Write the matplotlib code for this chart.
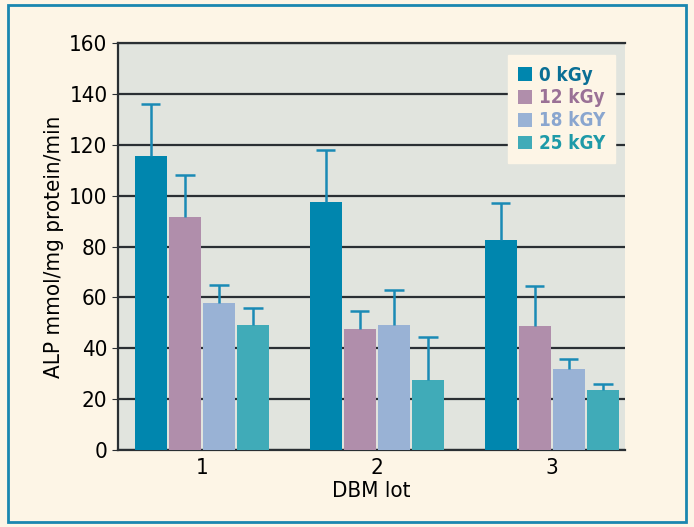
import numpy as np
import matplotlib.pyplot as plt
from matplotlib.patches import Rectangle

# data
lots = ['1', '2', '3']
doses = ['0 kGy', '12 kGy', '18 kGY', '25 kGY']
means = {
    '0 kGy': [115.5, 97.5, 82.5],
    '12 kGy': [91.5, 47.5, 48.7],
    '18 kGY': [58, 49, 31.8],
    '25 kGY': [49, 27.5, 23.6],
}
errs = {
    '0 kGy': [20.5, 20.5, 14.5],
    '12 kGy': [16.5, 7, 15.8],
    '18 kGY': [7, 14, 4],
    '25 kGY': [7, 17, 2.4],
}
colors = ['#0086ae', '#b08eab', '#99b2d5', '#40abb8']
legend_text_colors = ['#0a6f95', '#9a7196', '#8aa6cf', '#1e9aa8']

plt.rcParams['font.family'] = ['DejaVu Sans']
plt.rcParams['font.stretch'] = 'condensed'

fig = plt.figure(figsize=(6.94, 5.27), dpi=100)
fig.patch.set_facecolor('#fdf5e6')
fig.patches.append(Rectangle((0.012, 0.01), 0.977, 0.98, transform=fig.transFigure,
                             fill=False, edgecolor='#1a87b0', linewidth=2))

ax = fig.add_axes([0.170, 0.146, 0.731, 0.772])
ax.set_facecolor('#e1e4de')

x = np.arange(len(lots))
width = 0.195
cap = 0.055
for i, d in enumerate(doses):
    pos = x + (i - 1.5) * width
    m = np.array(means[d])
    top = m + np.array(errs[d])
    ax.bar(pos, m, width * 0.94, color=colors[i], label=d, zorder=3)
    # upper error bars only
    ax.vlines(pos, m, top, color='#1a8ab5', linewidth=1.8, zorder=4)
    ax.hlines(top, pos - cap, pos + cap, color='#1a8ab5', linewidth=1.8, zorder=4)

ax.set_ylim(0, 160)
ax.set_xlim(-0.48, 2.42)
ax.set_yticks(np.arange(0, 161, 20))
ax.set_xticks(x)
ax.set_xticklabels(lots)
ax.yaxis.grid(True, color='#2a2f33', linewidth=1.6, zorder=1)
ax.set_axisbelow(True)
ax.spines['right'].set_visible(False)
for s in ['left', 'top', 'bottom']:
    ax.spines[s].set_color('#2a2f33')
    ax.spines[s].set_linewidth(1.6)
ax.tick_params(axis='both', labelsize=16, color='#2a2f33', length=4)
ax.tick_params(axis='x', length=0, pad=6)
ax.set_ylabel('ALP mmol/mg protein/min', fontsize=16)
ax.set_xlabel('DBM lot', fontsize=16, labelpad=2)

leg = ax.legend(loc='upper right', bbox_to_anchor=(0.98, 0.97), borderaxespad=0,
                frameon=True, fancybox=False, facecolor='#fdf5e6', edgecolor='#fdf5e6',
                framealpha=1, handlelength=0.75, handleheight=0.75, handletextpad=0.35,
                labelspacing=0.2, borderpad=0.55, prop={'weight': 'bold', 'size': 13.5})
for t, c in zip(leg.get_texts(), legend_text_colors):
    t.set_color(c)

fig.savefig('out.png', dpi=100, facecolor=fig.get_facecolor())
